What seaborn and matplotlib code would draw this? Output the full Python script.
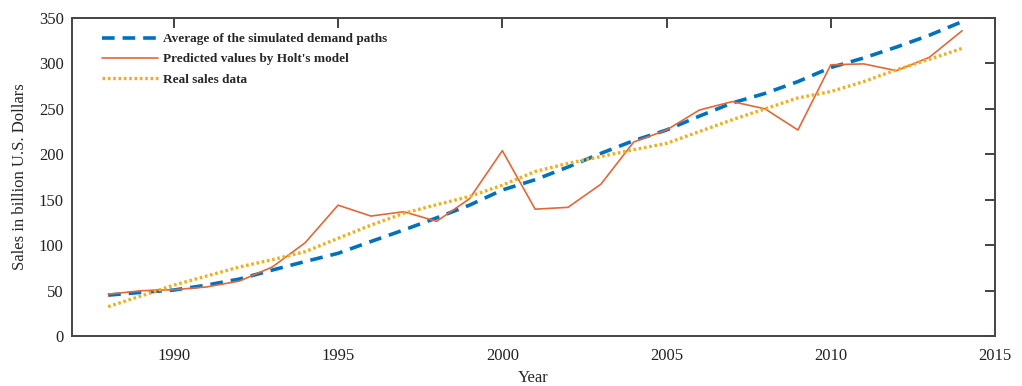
import numpy as np
import pandas as pd
import matplotlib
matplotlib.use("Agg")
import matplotlib.pyplot as plt
import seaborn as sns

years = list(range(1988, 2015))
avg_simulated = [45, 48, 50.6, 56, 62.7, 72.6, 82, 91, 104, 116.7, 130, 144, 160.7, 172,
                 186, 201, 215, 226.7, 242, 256.5, 267, 280, 295.5, 306, 318, 331, 346]
holt_pred = [46, 49.8, 51, 54, 60.5, 76, 102.7, 144, 132, 136.8, 126.2, 151, 204, 139.6,
             141.6, 167, 213.5, 226.7, 248.7, 258, 250, 226.7, 298.5, 299.5, 292, 306.7, 336]
real_sales = [32.3, 44, 56, 66, 76, 84, 92.8, 107.5, 122, 135, 144.5, 153.5, 166, 181,
              190, 197.5, 205, 212, 225, 238, 250, 262, 269, 280, 293, 304.5, 316.6]

labels = ["Average of the simulated demand paths",
          "Predicted values by Holt's model",
          "Real sales data"]
xticks = [1990, 1995, 2000, 2005, 2010, 2015]
yticks = [0, 50, 100, 150, 200, 250, 300, 350]

sns.set_style("white")
plt.rcParams['font.family'] = ['Liberation Serif', 'DejaVu Serif']

fig = plt.figure(figsize=(10.22, 3.86), dpi=100)
ax = fig.add_axes([72/1022, 1-336/386, (995-72)/1022, (336-18)/386])

df = pd.DataFrame({"Year": years, "avg": avg_simulated, "holt": holt_pred, "real": real_sales})

sns.lineplot(data=df, x="Year", y="avg", ax=ax, color="#0072BD", linewidth=2.6,
             linestyle=(0, (3.5, 2.2)), label=labels[0])
sns.lineplot(data=df, x="Year", y="holt", ax=ax, color="#E0683A", linewidth=1.2,
             label=labels[1])
sns.lineplot(data=df, x="Year", y="real", ax=ax, color="#EDB120", linewidth=2.4,
             linestyle=(0, (0.8, 0.8)), label=labels[2])

ax.set_xlim(1986.9, 2015)
ax.set_ylim(0, 350)
ax.set_xticks(xticks)
ax.set_yticks(yticks)
ax.tick_params(direction="in", length=7, width=1.2, top=True, right=True,
               labelsize=12, colors="#222222", pad=6)
ax.tick_params(axis="x", pad=9)
for s in ax.spines.values():
    s.set_color("#444444")
    s.set_linewidth(1.4)

ax.set_xlabel("Year", fontsize=12, labelpad=4)
ax.set_ylabel("Sales in billion U.S. Dollars", fontsize=12, labelpad=8)

leg = ax.legend(loc="upper left", frameon=False, fontsize=9.5, handlelength=4.2,
                bbox_to_anchor=(0.02, 0.99), labelspacing=0.6, handletextpad=0.4)
for t in leg.get_texts():
    t.set_fontweight("bold")

fig.savefig("out.png", dpi=100)
